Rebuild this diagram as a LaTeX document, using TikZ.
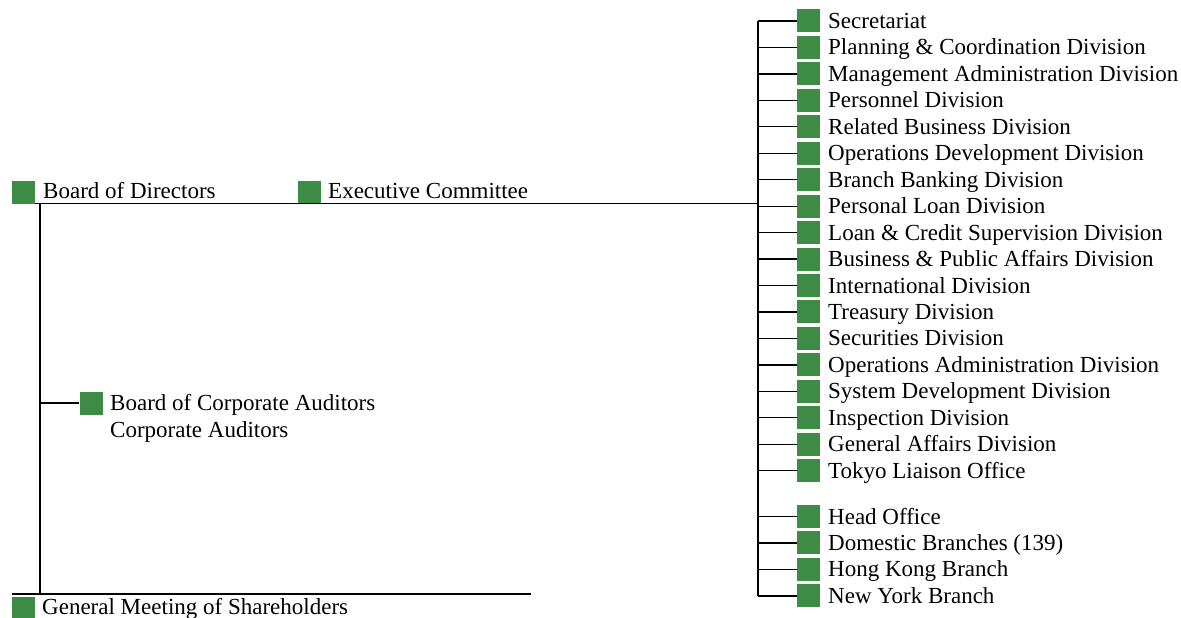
\documentclass[tikz,border=0pt]{standalone}
\usepackage{fontspec}
\setmainfont{Liberation Serif}
\usepackage{tikz}
\usetikzlibrary{positioning}

\definecolor{unitgreen}{RGB}{61,139,69}

\tikzset{
  unit/.style={fill=unitgreen, minimum size=23pt, inner sep=0pt},
  unitname/.style={anchor=base west, inner sep=0pt,
    font=\fontsize{23}{26.5}\selectfont},
  link/.style={line width=1.3pt, black},
}

\begin{document}
\begin{tikzpicture}[x=1pt, y=-1pt]
  \useasboundingbox (0,0) rectangle (1181,618);

  % ── Board of Directors and Executive Committee ──
  \coordinate (spine) at (758,21);
  \coordinate (trunk) at (40,203);
  \coordinate (gmsline) at (531,594);
  \node[unit] (bod) at (23.5,192) {};
  \node[unitname] (bodname) at (43,198) {Board of Directors};
  \node[unit] (exec) at (309,192) {};
  \node[unitname] (execname) at (328,198) {Executive Committee};
  \draw[link] (bod.south east) -- (bod.south east -| spine);

  % ── Head office divisions ──
  \foreach \i/\dname in
      {0/Secretariat, 1/{Planning \& Coordination Division},
       2/{Management Administration Division}, 3/{Personnel Division},
       4/{Related Business Division}, 5/{Operations Development Division},
       6/{Branch Banking Division}, 7/{Personal Loan Division},
       8/{Loan \& Credit Supervision Division},
       9/{Business \& Public Affairs Division}, 10/{International Division},
       11/{Treasury Division}, 12/{Securities Division},
       13/{Operations Administration Division},
       14/{System Development Division}, 15/{Inspection Division},
       16/{General Affairs Division}, 17/{Tokyo Liaison Office}} {
    \pgfmathsetmacro{\yd}{21 + \i*26.45}
    \node[unit] (div\i) at (808.5,\yd) {};
    \node[unitname] (divname\i) at (828,\yd+7.5) {\dname};
    \draw[link] (div\i.west) -- (div\i.west -| spine);
  }

  % ── Branches ──
  \foreach \i/\bname in
      {0/{Head Office}, 1/{Domestic Branches (139)},
       2/{Hong Kong Branch}, 3/{New York Branch}} {
    \pgfmathsetmacro{\yb}{516.5 + \i*26.45}
    \node[unit] (br\i) at (808.5,\yb) {};
    \node[unitname] (brname\i) at (828,\yb+7.5) {\bname};
    \draw[link] (br\i.west) -- (br\i.west -| spine);
  }
  \draw[link] (spine) -- (spine |- br3.west);

  % ── Auditors and shareholders ──
  \node[unit] (aud) at (91,403) {};
  \node[unitname] (audname) at (110,410.5) {Board of Corporate Auditors};
  \node[unitname] (audsub) at (110,437) {Corporate Auditors};
  \draw[link] (aud.west) -- (aud.west -| trunk);

  \node[unit] (gms) at (23.5,608.5) {};
  \node[unitname] (gmsname) at (42,614) {General Meeting of Shareholders};
  \draw[link] (trunk) -- (trunk |- gmsline);
  \draw[link] (gms.north west |- gmsline) -- (gmsline);
\end{tikzpicture}
\end{document}
